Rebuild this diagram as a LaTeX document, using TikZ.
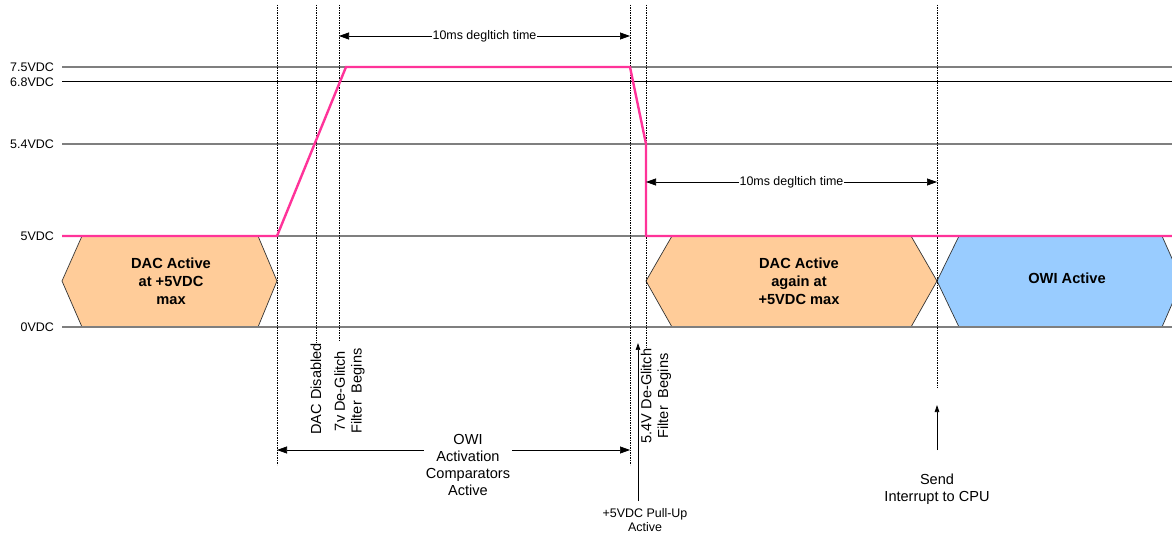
\documentclass[tikz,border=0pt]{standalone}
\usepackage{fontspec}
\setmainfont{Liberation Sans}
\usetikzlibrary{arrows.meta}
\definecolor{pinksig}{HTML}{FF3399}
\definecolor{peach}{HTML}{FFCC99}
\definecolor{skyb}{HTML}{99CCFF}
\definecolor{gridgray}{HTML}{7F7F7F}
\begin{document}
\begin{tikzpicture}[x=1bp,y=-1bp,
  lvl/.style={gridgray, line width=1.2bp},
  lvlblack/.style={black, line width=1bp},
  vdot/.style={black, line width=0.6bp, dash pattern=on 1.5bp off 1bp},
  sig/.style={pinksig, line width=2.4bp, line join=miter},
  hexa/.style={draw=black!80, line width=0.7bp},
  axl/.style={anchor=east, font=\fontsize{12.5}{14}\selectfont, inner sep=0pt},
  dimarrow/.style={{Triangle[length=10bp,width=7bp]}-{Triangle[length=10bp,width=7bp]}, line width=0.7bp},
  lbl/.style={font=\fontsize{12.5}{14}\selectfont, fill=white, inner sep=1bp},
  note/.style={font=\fontsize{14.6}{17}\selectfont, align=center, inner sep=1bp},
  smallnote/.style={font=\fontsize{12.5}{14}\selectfont, align=center, inner sep=1bp},
  hexlabel/.style={font=\bfseries\fontsize{14.7}{18}\selectfont, align=center},
  uparrow/.style={-{Triangle[length=7bp,width=4.5bp]}, line width=0.7bp}
]
\useasboundingbox (0,0) rectangle (1172,533);
\clip (0,0) rectangle (1172,533);

% hexagons (state boxes)
\filldraw[hexa, fill=peach] (62,281) -- (82,236) -- (258,236) -- (277,281) -- (258,327) -- (82,327) -- cycle;
\filldraw[hexa, fill=peach] (646,281) -- (672,236) -- (911,236) -- (937,281) -- (911,327) -- (672,327) -- cycle;
\filldraw[hexa, fill=skyb] (937,281) -- (959,236) -- (1162,236) -- (1182,281) -- (1162,327) -- (959,327) -- cycle;
\node[hexlabel] (h1) at (171,281) {DAC Active\\at +5VDC\\max};
\node[hexlabel] (h2) at (799,281) {DAC Active\\again at\\+5VDC max};
\node[hexlabel] (h3) at (1067,278) {OWI Active};

% level lines
\draw[lvl] (62,67) -- (1172,67);
\draw[lvlblack] (62,82) -- (1172,82);
\draw[lvl] (62,144) -- (1172,144);
\draw[lvl] (62,236) -- (1172,236);
\draw[lvl] (62,327) -- (1172,327);
\node[axl] (l75) at (54,67) {7.5VDC};
\node[axl] (l68) at (54,82) {6.8VDC};
\node[axl] (l54) at (54,144) {5.4VDC};
\node[axl] (l5) at (54,236) {5VDC};
\node[axl] (l0) at (54,327) {0VDC};

% vertical dotted markers
\coordinate (t1a) at (277,5);  \coordinate (t1b) at (277,465);
\coordinate (t2a) at (316,5);  \coordinate (t2b) at (316,343);
\coordinate (t3a) at (339,5);  \coordinate (t3b) at (339,342);
\coordinate (t4a) at (630,5);  \coordinate (t4b) at (630,465);
\coordinate (t5a) at (646,5);  \coordinate (t5b) at (646,348);
\coordinate (t6a) at (937,5);  \coordinate (t6b) at (937,388);
\foreach \a/\b in {t1a/t1b,t2a/t2b,t3a/t3b,t4a/t4b,t5a/t5b,t6a/t6b}
  \draw[vdot] (\a) -- (\b);

% signal
\draw[sig] (62,236) -- (277,236) -- (346,67) -- (630,67) -- (646,144) -- (646,236) -- (1172,236);

% deglitch time dimensions
\coordinate (d1a) at (339,36); \coordinate (d1b) at (630,36);
\coordinate (d2a) at (646,182); \coordinate (d2b) at (937,182);
\draw[dimarrow] (d1a) -- node[lbl] (dl1) {10ms degltich time} (d1b);
\draw[dimarrow] (d2a) -- node[lbl] (dl2) {10ms degltich time} (d2b);

% OWI activation span
\coordinate (o1) at (277,450); \coordinate (o2) at (630,450);
\draw[dimarrow] (o1) -- (o2);
\node[note, fill=white, inner sep=2bp] (owi) at (468,465) {OWI\\Activation\\Comparators\\Active};

% rotated event labels
\node[note, rotate=90, anchor=east] (dacdis) at (316,342) {DAC Disabled};
\node[note, rotate=90] (sevenv) at (349.5,391) {7v De-Glitch\\Filter\ \ Begins};
\node[note, rotate=90] (fivefour) at (656,396) {5.4V De-Glitch\\Filter\ \ Begins};

% pull-up arrow
\node[smallnote] (pullup) at (645,520) {+5VDC Pull-Up\\Active};
\coordinate (pu) at (638,343);
\draw[uparrow] (638,501) -- (pu);

% interrupt arrow
\node[note] (send) at (937,489) {Send\\Interrupt to CPU};
\coordinate (sa) at (937,450); \coordinate (sb) at (937,405);
\draw[uparrow] (sa) -- (sb);
\end{tikzpicture}
\end{document}
